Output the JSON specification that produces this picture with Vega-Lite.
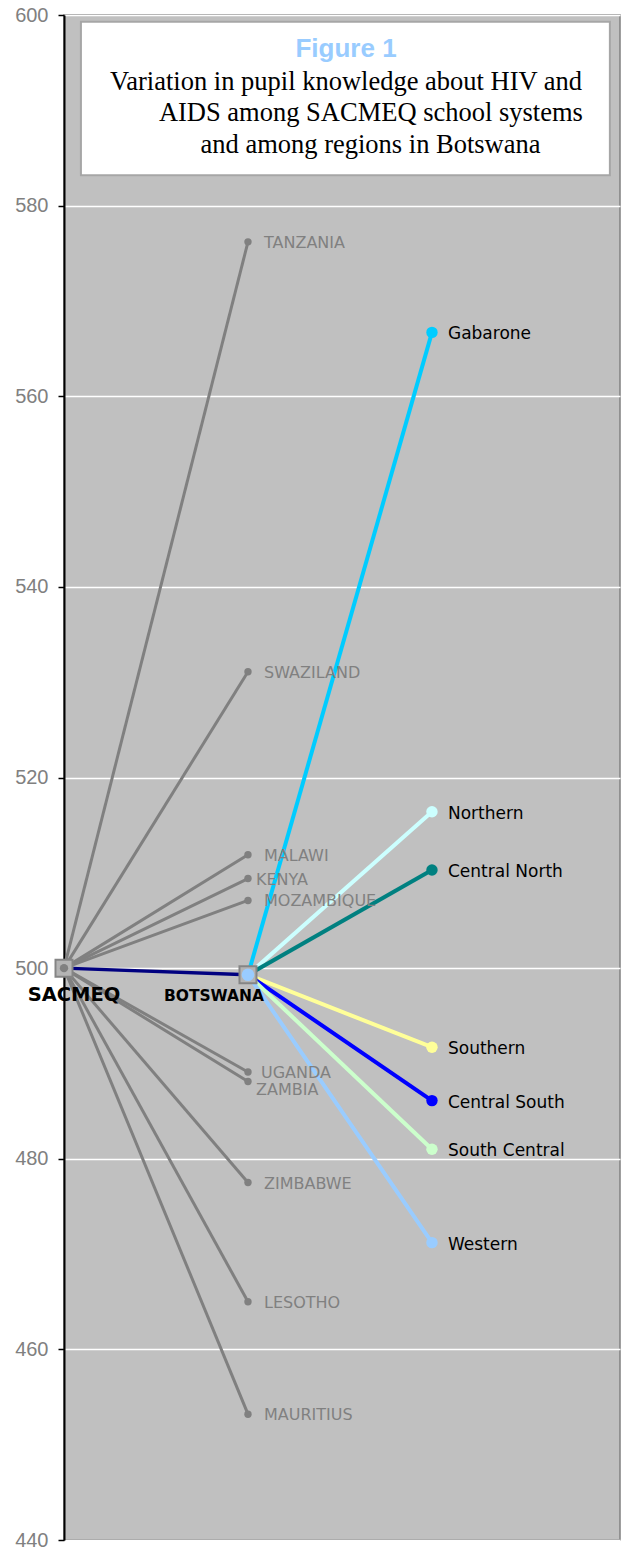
{
  "$schema": "https://vega.github.io/schema/vega-lite/v6.json",
  "width": 556,
  "height": 1525,
  "autosize": {"type": "none"},
  "padding": {"left": 64, "top": 15, "right": 8, "bottom": 11},
  "background": "white",
  "config": {
    "view": {"fill": "#C0C0C0", "stroke": "#808080", "strokeWidth": 1.5},
    "axisY": {
      "grid": true, "gridColor": "#FFFFFF", "gridWidth": 1.5,
      "domainColor": "#000000", "domainWidth": 2,
      "tickColor": "#000000", "tickSize": 6, "tickWidth": 1.5,
      "labelFont": "Liberation Sans", "labelFontSize": 20, "labelColor": "#808080",
      "labelPadding": 10, "labelFlush": false
    }
  },
  "datasets": {
    "links": [
      {"name": "TANZANIA", "kind": "country", "fromLevel": 0, "fromScore": 500, "level": 1, "score": 576.2},
      {"name": "SWAZILAND", "kind": "country", "fromLevel": 0, "fromScore": 500, "level": 1, "score": 531.1},
      {"name": "MALAWI", "kind": "country", "fromLevel": 0, "fromScore": 500, "level": 1, "score": 511.9},
      {"name": "KENYA", "kind": "country", "fromLevel": 0, "fromScore": 500, "level": 1, "score": 509.4},
      {"name": "MOZAMBIQUE", "kind": "country", "fromLevel": 0, "fromScore": 500, "level": 1, "score": 507.1},
      {"name": "UGANDA", "kind": "country", "fromLevel": 0, "fromScore": 500, "level": 1, "score": 489.1},
      {"name": "ZAMBIA", "kind": "country", "fromLevel": 0, "fromScore": 500, "level": 1, "score": 488.1},
      {"name": "ZIMBABWE", "kind": "country", "fromLevel": 0, "fromScore": 500, "level": 1, "score": 477.5},
      {"name": "LESOTHO", "kind": "country", "fromLevel": 0, "fromScore": 500, "level": 1, "score": 465.0},
      {"name": "MAURITIUS", "kind": "country", "fromLevel": 0, "fromScore": 500, "level": 1, "score": 453.2},
      {"name": "BOTSWANA", "kind": "botswana", "fromLevel": 0, "fromScore": 500, "level": 1, "score": 499.3},
      {"name": "Gabarone", "kind": "region", "fromLevel": 1, "fromScore": 499.3, "level": 2, "score": 566.7},
      {"name": "Northern", "kind": "region", "fromLevel": 1, "fromScore": 499.3, "level": 2, "score": 516.4},
      {"name": "Central North", "kind": "region", "fromLevel": 1, "fromScore": 499.3, "level": 2, "score": 510.3},
      {"name": "Southern", "kind": "region", "fromLevel": 1, "fromScore": 499.3, "level": 2, "score": 491.7},
      {"name": "Central South", "kind": "region", "fromLevel": 1, "fromScore": 499.3, "level": 2, "score": 486.1},
      {"name": "South Central", "kind": "region", "fromLevel": 1, "fromScore": 499.3, "level": 2, "score": 481.0},
      {"name": "Western", "kind": "region", "fromLevel": 1, "fromScore": 499.3, "level": 2, "score": 471.2}
    ],
    "systems": [
      {"name": "SACMEQ", "level": 0, "score": 500},
      {"name": "BOTSWANA", "level": 1, "score": 499.3}
    ],
    "one": [{}]
  },
  "layer": [
    {
      "data": {"name": "links"},
      "transform": [{"filter": "datum.kind == 'country'"}],
      "mark": {"type": "rule", "color": "#808080", "strokeWidth": 3},
      "encoding": {
        "x": {"field": "fromLevel", "type": "quantitative", "scale": {"domain": [0, 3.022], "nice": false, "zero": false}, "axis": null},
        "x2": {"field": "level"},
        "y": {"field": "fromScore", "type": "quantitative", "title": null, "scale": {"domain": [440, 600], "nice": false, "zero": false}, "axis": {"values": [440, 460, 480, 500, 520, 540, 560, 580, 600]}},
        "y2": {"field": "score"}
      }
    },
    {
      "data": {"name": "links"},
      "transform": [{"filter": "datum.kind == 'botswana'"}],
      "mark": {"type": "rule", "color": "#000080", "strokeWidth": 3.5},
      "encoding": {
        "x": {"field": "fromLevel", "type": "quantitative", "axis": null},
        "x2": {"field": "level"},
        "y": {"field": "fromScore", "type": "quantitative", "title": null},
        "y2": {"field": "score"}
      }
    },
    {
      "data": {"name": "links"},
      "transform": [{"filter": "datum.kind == 'region'"}],
      "mark": {"type": "rule", "strokeWidth": 4},
      "encoding": {
        "x": {"field": "fromLevel", "type": "quantitative", "axis": null},
        "x2": {"field": "level"},
        "y": {"field": "fromScore", "type": "quantitative", "title": null},
        "y2": {"field": "score"},
        "color": {"field": "name", "type": "nominal", "legend": null,
          "scale": {"domain": ["Gabarone", "Northern", "Central North", "Southern", "Central South", "South Central", "Western"],
                    "range": ["#00CCFF", "#CCFFFF", "#008080", "#FFFF99", "#0000FF", "#CCFFCC", "#99CCFF"]}}
      }
    },
    {
      "data": {"name": "links"},
      "transform": [{"filter": "datum.kind == 'country'"}],
      "mark": {"type": "circle", "color": "#808080", "opacity": 1, "size": 55},
      "encoding": {
        "x": {"field": "level", "type": "quantitative", "axis": null},
        "y": {"field": "score", "type": "quantitative", "title": null}
      }
    },
    {
      "data": {"name": "links"},
      "transform": [{"filter": "datum.kind == 'region'"}],
      "mark": {"type": "circle", "opacity": 1, "size": 130},
      "encoding": {
        "x": {"field": "level", "type": "quantitative", "axis": null},
        "y": {"field": "score", "type": "quantitative", "title": null},
        "color": {"field": "name", "type": "nominal", "legend": null}
      }
    },
    {
      "data": {"name": "systems"},
      "mark": {"type": "square", "size": 289, "fill": "#B4B4B4", "stroke": "#858585", "strokeWidth": 2, "opacity": 1},
      "encoding": {
        "x": {"field": "level", "type": "quantitative", "axis": null},
        "y": {"field": "score", "type": "quantitative", "title": null}
      }
    },
    {
      "data": {"name": "systems"},
      "transform": [{"filter": "datum.name == 'SACMEQ'"}],
      "mark": {"type": "circle", "size": 70, "color": "#808080", "opacity": 1},
      "encoding": {
        "x": {"field": "level", "type": "quantitative", "axis": null},
        "y": {"field": "score", "type": "quantitative", "title": null}
      }
    },
    {
      "data": {"name": "systems"},
      "transform": [{"filter": "datum.name == 'BOTSWANA'"}],
      "mark": {"type": "circle", "size": 160, "color": "#99CCFF", "opacity": 1},
      "encoding": {
        "x": {"field": "level", "type": "quantitative", "axis": null},
        "y": {"field": "score", "type": "quantitative", "title": null}
      }
    },
    {
      "data": {"name": "systems"},
      "transform": [{"filter": "datum.name == 'SACMEQ'"}],
      "mark": {"type": "text", "align": "center", "baseline": "middle", "dx": 10, "dy": 27, "font": "DejaVu Sans", "fontWeight": "bold", "fontSize": 19.5, "color": "#000000"},
      "encoding": {
        "x": {"field": "level", "type": "quantitative", "axis": null},
        "y": {"field": "score", "type": "quantitative", "title": null},
        "text": {"field": "name"}
      }
    },
    {
      "data": {"name": "systems"},
      "transform": [{"filter": "datum.name == 'BOTSWANA'"}],
      "mark": {"type": "text", "align": "right", "baseline": "middle", "dx": 16, "dy": 21, "font": "DejaVu Sans", "fontWeight": "bold", "fontSize": 15.5, "color": "#000000"},
      "encoding": {
        "x": {"field": "level", "type": "quantitative", "axis": null},
        "y": {"field": "score", "type": "quantitative", "title": null},
        "text": {"field": "name"}
      }
    },
    {
      "data": {"name": "links"},
      "transform": [{"filter": "datum.kind == 'country' && datum.name != 'KENYA' && datum.name != 'UGANDA' && datum.name != 'ZAMBIA'"}],
      "mark": {"type": "text", "align": "left", "baseline": "middle", "dx": 16, "dy": 1, "font": "DejaVu Sans", "fontSize": 16, "color": "#808080"},
      "encoding": {
        "x": {"field": "level", "type": "quantitative", "axis": null},
        "y": {"field": "score", "type": "quantitative", "title": null},
        "text": {"field": "name"}
      }
    },
    {
      "data": {"name": "links"},
      "transform": [{"filter": "datum.name == 'KENYA'"}],
      "mark": {"type": "text", "align": "left", "baseline": "middle", "dx": 8, "dy": 1, "font": "DejaVu Sans", "fontSize": 16, "color": "#808080"},
      "encoding": {
        "x": {"field": "level", "type": "quantitative", "axis": null},
        "y": {"field": "score", "type": "quantitative", "title": null},
        "text": {"field": "name"}
      }
    },
    {
      "data": {"name": "links"},
      "transform": [{"filter": "datum.name == 'UGANDA'"}],
      "mark": {"type": "text", "align": "left", "baseline": "middle", "dx": 13, "dy": 1, "font": "DejaVu Sans", "fontSize": 16, "color": "#808080"},
      "encoding": {
        "x": {"field": "level", "type": "quantitative", "axis": null},
        "y": {"field": "score", "type": "quantitative", "title": null},
        "text": {"field": "name"}
      }
    },
    {
      "data": {"name": "links"},
      "transform": [{"filter": "datum.name == 'ZAMBIA'"}],
      "mark": {"type": "text", "align": "left", "baseline": "middle", "dx": 8, "dy": 8, "font": "DejaVu Sans", "fontSize": 16, "color": "#808080"},
      "encoding": {
        "x": {"field": "level", "type": "quantitative", "axis": null},
        "y": {"field": "score", "type": "quantitative", "title": null},
        "text": {"field": "name"}
      }
    },
    {
      "data": {"name": "links"},
      "transform": [{"filter": "datum.kind == 'region'"}],
      "mark": {"type": "text", "align": "left", "baseline": "middle", "dx": 16, "dy": 2, "font": "DejaVu Sans", "fontSize": 17, "color": "#000000"},
      "encoding": {
        "x": {"field": "level", "type": "quantitative", "axis": null},
        "y": {"field": "score", "type": "quantitative", "title": null},
        "text": {"field": "name"}
      }
    },
    {
      "data": {"name": "one"},
      "mark": {"type": "rect", "fill": "#FFFFFF", "stroke": "#A6A6A6", "strokeWidth": 2},
      "encoding": {
        "x": {"datum": 0.092, "type": "quantitative", "axis": null},
        "x2": {"datum": 2.967},
        "y": {"datum": 599.3, "type": "quantitative", "title": null},
        "y2": {"datum": 583.2}
      }
    },
    {
      "data": {"name": "one"},
      "mark": {"type": "text", "align": "center", "baseline": "middle", "font": "Liberation Sans", "fontWeight": "bold", "fontSize": 26, "color": "#99CCFF"},
      "encoding": {
        "x": {"datum": 1.533, "type": "quantitative", "axis": null},
        "y": {"datum": 596.4, "type": "quantitative", "title": null},
        "text": {"value": "Figure 1"}
      }
    },
    {
      "data": {"name": "one"},
      "mark": {"type": "text", "align": "center", "baseline": "middle", "font": "Liberation Serif", "fontSize": 26.5, "color": "#000000"},
      "encoding": {
        "x": {"datum": 1.533, "type": "quantitative", "axis": null},
        "y": {"datum": 592.97, "type": "quantitative", "title": null},
        "text": {"value": "Variation in pupil knowledge about HIV and"}
      }
    },
    {
      "data": {"name": "one"},
      "mark": {"type": "text", "align": "center", "baseline": "middle", "font": "Liberation Serif", "fontSize": 26.5, "color": "#000000"},
      "encoding": {
        "x": {"datum": 1.668, "type": "quantitative", "axis": null},
        "y": {"datum": 589.7, "type": "quantitative", "title": null},
        "text": {"value": "AIDS among SACMEQ school systems"}
      }
    },
    {
      "data": {"name": "one"},
      "mark": {"type": "text", "align": "center", "baseline": "middle", "font": "Liberation Serif", "fontSize": 26.5, "color": "#000000"},
      "encoding": {
        "x": {"datum": 1.666, "type": "quantitative", "axis": null},
        "y": {"datum": 586.4, "type": "quantitative", "title": null},
        "text": {"value": "and among regions in Botswana"}
      }
    }
  ]
}
